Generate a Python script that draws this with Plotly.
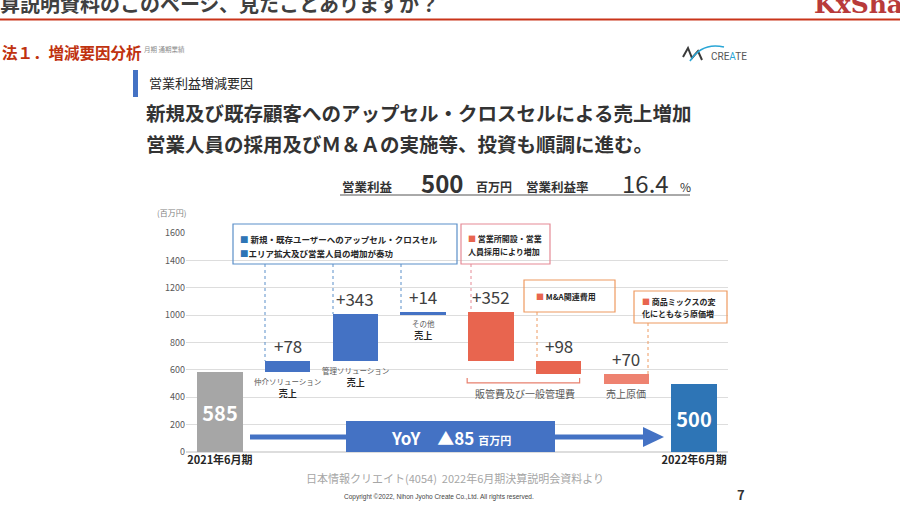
import plotly.graph_objects as go

# data
categories = ["2021年6月期", "仲介ソリューション売上", "管理ソリューション売上", "その他売上",
              "営業所開設・営業人員採用", "M&A関連費用", "売上原価", "2022年6月期"]
values = [585, 78, 343, 14, -352, -98, -70, 500]
kinds = ["total", "relative", "relative", "relative", "relative", "relative", "relative", "total"]
tick_labels = ["2021年6月期", "2022年6月期"]
sub_labels = {1: "仲介ソリューション", 2: "管理ソリューション", 3: "その他"}
yoy_text = "▲85"
profit = "500"
margin_pct = "16.4"

bar_colors = ["#A6A6A6", "#4472C4", "#4472C4", "#4472C4", "#E8654F", "#E8654F", "#EE8270", "#2E75B6"]
JP = "Noto Sans CJK JP"

# floating bar bases
bases, level = [], 0
for v, k in zip(values, kinds):
    if k == "total":
        bases.append(0)
        level = v
    else:
        bases.append(level)
        level += v
xs = list(range(len(categories)))

fig = go.Figure()
fig.add_trace(go.Bar(
    x=xs, y=values, base=bases, width=0.67,
    marker=dict(color=bar_colors, line=dict(width=0)),
    text=[str(v) if k == "total" else "" for v, k in zip(values, kinds)],
    textposition="inside", insidetextanchor="middle",
    textfont=dict(color="white", size=20, family=JP, weight="bold"),
    hovertext=categories, showlegend=False,
))

# plot area in pixels
L, R, T, B = 186, 728, 233, 452
def fx(p): return (p - L) / (R - L)
def fy(p): return (B - p) / (B - T)

ann = []
shapes = []


def txt(x, y, s, size, color="#262626", bold=False, xa="left", ya="middle", family=JP):
    ann.append(dict(x=fx(x), y=fy(y), xref="paper", yref="paper", text=s, showarrow=False,
                    xanchor=xa, yanchor=ya, font=dict(size=size, color=color, family=family,
                                                       weight="bold" if bold else "normal")))


def rect(x0, y0, x1, y1, line=None, fill=None, w=1.2):
    shapes.append(dict(type="rect", xref="paper", yref="paper", x0=fx(x0), x1=fx(x1), y0=fy(y0), y1=fy(y1),
                       line=dict(color=line or "rgba(0,0,0,0)", width=w if line else 0),
                       fillcolor=fill or "rgba(0,0,0,0)"))


def seg(x0, y0, x1, y1, color, w=1, dash="solid"):
    shapes.append(dict(type="line", xref="paper", yref="paper", x0=fx(x0), x1=fx(x1), y0=fy(y0), y1=fy(y1),
                       line=dict(color=color, width=w, dash=dash)))


# delta labels above each floating bar
for i, (v, k, b) in enumerate(zip(values, kinds, bases)):
    if k == "relative":
        top = max(b, b + v)
        ann.append(dict(x=i, y=top, xref="x", yref="y", text="+" + str(abs(v)), showarrow=False,
                        yanchor="bottom", yshift=1, font=dict(size=17, color="#404040", family=JP)))

# sub labels under the sales bars
for i, s in sub_labels.items():
    ann.append(dict(x=i, y=bases[i], xref="x", yref="y", showarrow=False, yanchor="top", yshift=-2,
                    text="<span style='font-size:7.5px;color:#595959'>" + s + "</span><br><b>売上</b>",
                    font=dict(size=9, color="#262626", family=JP)))

# bracket under SG&A bars
shapes.append(dict(type="path", xref="x", yref="y",
                   path="M 3.65 540 L 3.65 505 L 5.31 505 L 5.31 540", line=dict(color="#E8806E", width=1.2)))
ann.append(dict(x=4.5, y=430, xref="x", yref="y", text="販管費及び一般管理費", showarrow=False,
                font=dict(size=10, color="#595959", family=JP)))
ann.append(dict(x=6, y=430, xref="x", yref="y", text="売上原価", showarrow=False,
                font=dict(size=10, color="#595959", family=JP)))

# callout boxes
rect(233, 224, 457, 264, line="#5B8FC9")
txt(238, 239, "<span style='color:#2E75B6'>■</span> 新規・既存ユーザーへのアップセル・クロスセル", 8.5, bold=True)
txt(238, 253, "<span style='color:#2E75B6'>■</span>エリア拡大及び営業人員の増加が奏功", 8.5, bold=True)
for x0, y1 in [(265, 361), (333, 314), (401, 312)]:
    seg(x0, 264, x0, y1, "#5B8FC9", 1, "dot")

rect(461, 224, 550, 264, line="#E58A96")
txt(466, 238, "<span style='color:#E8654F'>■</span> 営業所開設・営業", 8, bold=True)
txt(466, 251, "人員採用により増加", 8, bold=True)
seg(471, 264, 471, 312, "#E58A96", 1, "dot")

rect(524, 280, 615, 312, line="#EE9A60")
txt(534, 296, "<span style='color:#E8654F'>■</span> M&A関連費用", 8, bold=True)
seg(537, 312, 537, 360, "#EE9A60", 1, "dot")

rect(634, 291, 727, 323, line="#EE9A60")
txt(640, 301, "<span style='color:#E8654F'>■</span> 商品ミックスの変", 8, bold=True)
txt(640, 313, "化にともなう原価増", 8, bold=True)
seg(648, 323, 648, 374, "#EE9A60", 1, "dot")

# YoY arrow
seg(250, 437, 645, 437, "#4472C4", 5)
shapes.append(dict(type="path", xref="paper", yref="paper", fillcolor="#4472C4", line=dict(width=0),
                   path=f"M {fx(643)} {fy(427)} L {fx(664)} {fy(437)} L {fx(643)} {fy(447)} Z"))
rect(346, 421, 555, 452, fill="#4472C4")
txt(451, 437, "YoY　" + yoy_text + " <span style='font-size:11px'>百万円</span>", 17, color="white",
    bold=True, xa="center")

# unit
txt(155, 212, "(百万円)", 8, color="#7F7F7F")

# slide header (cut at the top edge, as on the slide)
txt(-2, 3, "算説明資料のこのページ、見たことありますか？", 20, color="#404040", bold=True)
seg(0, 19.5, 900, 19.5, "#C9341A", 2)
txt(812, 5, "KxShare", 25, color="#B83A3A", bold=True, family="DejaVu Serif")
txt(0, 52, "法１．増減要因分析", 15.5, color="#C0320F", bold=True)
txt(142, 49, "月期 通期業績", 6.5, color="#8C8C8C")

# logo
shapes.append(dict(type="path", xref="paper", yref="paper", line=dict(color="#3A3A3A", width=2),
                   path=f"M {fx(683)} {fy(57)} L {fx(688)} {fy(48)} L {fx(692)} {fy(58)} L {fx(698)} {fy(51)} L {fx(702)} {fy(60)}"))
shapes.append(dict(type="path", xref="paper", yref="paper", line=dict(color="#2AA6D6", width=1.6),
                   path=f"M {fx(690)} {fy(61)} Q {fx(702)} {fy(42)} {fx(724)} {fy(47)}"))
txt(709, 56, "CRE<span style='color:#2AA6D6'>A</span>TE", 10, color="#555555", family="Roboto")

# headline block
rect(133, 70, 138, 97, fill="#4472C4")
txt(147, 83, "営業利益増減要因", 13)
txt(144, 112, "新規及び既存顧客へのアップセル・クロスセルによる売上増加", 19.5, color="#333333", bold=True)
txt(144, 143, "営業人員の採用及びＭ＆Ａの実施等、投資も順調に進む。", 19.5, color="#333333", bold=True)
txt(340, 187, "営業利益", 12.5, color="#333333", bold=True)
txt(442, 183, profit, 24, color="#333333", bold=True, xa="center")
txt(474, 187, "百万円", 12, color="#333333", bold=True)
txt(524, 187, "営業利益率", 12.5, color="#333333", bold=True)
txt(645, 183, margin_pct, 24, color="#333333", xa="center")
txt(678, 187, "%", 12, color="#333333")
seg(340, 195, 690, 195, "#555555", 1)

# footer
txt(455, 478, "日本情報クリエイト(4054)  2022年6月期決算説明会資料より", 11, color="#A6A6A6", xa="center")
txt(439, 497, "Copyright ©2022, Nihon Jyoho Create Co.,Ltd. All rights reserved.", 6.5, color="#444444",
    xa="center", family="Liberation Sans")
txt(741, 494, "7", 13, color="#333333", bold=True, xa="center")

fig.update_layout(
    width=900, height=506,
    margin=dict(l=L, r=900 - R, t=T, b=506 - B),
    paper_bgcolor="white", plot_bgcolor="white",
    font=dict(family=JP),
    xaxis=dict(range=[-0.5, 7.5], tickvals=[0, 7], ticktext=tick_labels, showgrid=False, zeroline=False,
               tickfont=dict(size=11, color="#262626", weight="bold"), ticks=""),
    yaxis=dict(range=[0, 1600], dtick=200, gridcolor="#DDDDDD", gridwidth=1, zeroline=True,
               zerolinecolor="#DDDDDD", tickfont=dict(size=9, color="#595959"), ticks=""),
    annotations=ann, shapes=shapes, bargap=0,
)

# page has a default body margin; drop it so the slide sits at the window origin
fig.write_html("out.html", config={"displayModeBar": False},
               post_script="document.body.style.margin='0';")
